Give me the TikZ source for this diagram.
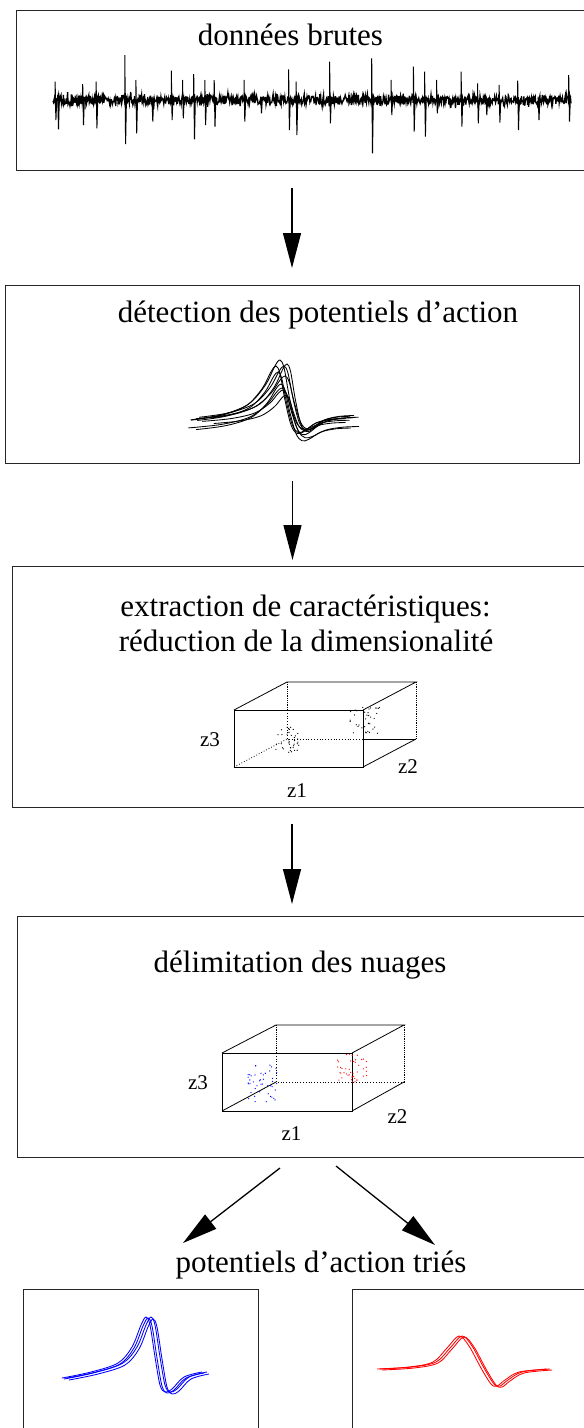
\documentclass[tikz,border=0pt]{standalone}
\usepackage{fontspec}
\setmainfont{Liberation Serif}
\usetikzlibrary{arrows.meta}
\begin{document}
\begin{tikzpicture}[x=1pt,y=-1pt,
  box/.style={draw=black!85,line width=0.9pt,rectangle,inner sep=0pt},
  title/.style={anchor=base,inner sep=0pt,font=\fontsize{31}{37}\selectfont},
  zlab/.style={inner sep=0pt,font=\fontsize{21}{25}\selectfont},
  arr/.style={line width=1.3pt,-{Triangle[length=35pt,width=18pt]}},
  edge/.style={line width=0.8pt},
  hid/.style={line width=0.8pt,dotted},
  dhid/.style={line width=0.8pt,densely dotted},
  wave/.style={line width=0.85pt},
  bspike/.pic={\draw[wave] plot[smooth,tension=0.55] coordinates {(-85,57) (-55,52) (-30,42) (-14,24) (-5,6) (0,0) (4,8) (9,36) (15,62) (21,71) (28,69) (40,60) (55,56) (70,55)};},
  blspike/.pic={\draw[wave,blue] plot[smooth,tension=0.55] coordinates {(-84,61) (-55,55) (-28,46) (-14,30) (-5,8) (0,0) (4,8) (9,40) (14,68) (19,75) (26,72) (38,60) (56,55)};},
  rdspike/.pic={\draw[wave,red] plot[smooth,tension=0.55] coordinates {(-82,33) (-50,31) (-26,26) (-12,12) (0,0) (10,10) (22,32) (32,48) (38,50) (46,44) (60,36) (88,33)};}
]
\useasboundingbox (0,0) rectangle (584,1428);
\clip (0,0) rectangle (584,1428);

% boxes
\node[box,minimum width=584pt,minimum height=160.5pt] (b1) at (308,90.25) {};
\node[box,minimum width=573.5pt,minimum height=177.5pt] (b2) at (292.25,374.25) {};
\node[box,minimum width=588pt,minimum height=240.5pt] (b3) at (306,686.75) {};
\node[box,minimum width=583pt,minimum height=241pt] (b4) at (308.5,1036.5) {};
\node[box,minimum width=235pt,minimum height=161pt] (b5) at (140.5,1369.5) {};
\node[box,minimum width=248pt,minimum height=161pt] (b6) at (476,1369.5) {};

% titles
\node[title] (t1) at (290.5,45) {données brutes};
\node[title] (t2) at (318,322) {détection des potentiels d’action};
\node[title] (t3a) at (305.5,616) {extraction de caractéristiques:};
\node[title] (t3b) at (306,651) {réduction de la dimensionalité};
\node[title] (t4) at (300,972) {délimitation des nuages};
\node[title] (t5) at (321,1272) {potentiels d’action triés};

% raw signal
\pgfmathsetseed{7}
\draw[line width=1.3pt] plot[domain=53:571,samples=1100] (\x,{100+4.5*rand+6*rand*rand*rand});
\foreach \sx/\su/\sd in {55.1/81.7/120,57.7/95/129.3,82.7/84/125,96.1/81.7/128.3,124.8/55/144,135.9/80/133.3,152/96.7/121.7,171.3/70.7/120,182.5/80/118.3,193.7/74/139.3,204.8/80/125,214.2/80/126.7,244/80/121.7,260.7/96.7/113.3,288.6/69.3/130,296.1/81.7/135,329.6/61.7/123.3,371.7/58.3/153.3,391/80/115,413.4/66.7/131.7,424.6/71.7/136.7,436.5/80/113.3,461.1/71.7/126.7,477.5/83.3/123.3,486/96.7/115,499.1/85/122.7,517.7/80.7/130,538.2/96.7/120,568.7/75/121.7}
  \draw[line width=1pt] (\sx,100) -- (\sx,\su) -- (\sx+0.8,\sd) -- (\sx+1.6,100);

% detected spikes
\pic[xscale=1.0,yscale=0.95] at (276,366) {bspike};
\pic[xscale=0.95,yscale=0.85] at (278,372) {bspike};
\pic[xscale=1.05,yscale=1.05] at (280,360) {bspike};
\pic[xscale=1.0,yscale=0.8] at (281,384) {bspike};
\pic[xscale=0.95,yscale=0.55] at (283,390) {bspike};
\pic[xscale=1.0,yscale=0.9] at (284,366) {bspike};
\pic[xscale=1.05,yscale=0.75] at (285,376) {bspike};
\pic[xscale=0.85,yscale=0.5] at (286,395) {bspike};
\pic[xscale=0.9,yscale=0.95] at (287,364) {bspike};
\pic[xscale=1.1,yscale=0.7] at (282,388) {bspike};

% feature cube (box 3)
\coordinate (cF1) at (234,710); \coordinate (cF2) at (363,710);
\coordinate (cF3) at (363,767); \coordinate (cF4) at (234,767);
\coordinate (cB1) at (287,682); \coordinate (cB2) at (416,682);
\coordinate (cB3) at (416,739); \coordinate (cB4) at (287,739);
\coordinate (cM1) at (287,710); \coordinate (cM2) at (363,739);
\draw[edge] (cF1) rectangle (cF3);
\draw[edge] (cF1) -- (cB1) -- (cB2) -- (cF2);
\draw[edge] (cF3) -- (cB3);
\draw[edge] (cM2) -- (cB3);
\draw[dhid] (cB2) -- (cB3);
\draw[dhid] (cB1) -- (cM1);
\draw[hid] (cM1) -- (cB4) -- (cM2);
\draw[hid] (cF4) -- (cB4);
\node[zlab] (z3a) at (210,740) {z3};
\node[zlab] (z2a) at (408,767) {z2};
\node[zlab] (z1a) at (297,791) {z1};
\pgfmathsetseed{11}
\foreach \i in {1,...,38}{
  \pgfmathsetmacro\px{286+13*rand}
  \pgfmathsetmacro\py{740+15*rand}
  \fill (\px,\py) circle (0.65);
}
\foreach \i in {1,...,38}{
  \pgfmathsetmacro\px{365+15*rand}
  \pgfmathsetmacro\py{721+14*rand}
  \fill (\px,\py) circle (0.65);
}

% cluster cube (box 4)
\coordinate (dF1) at (222,1053); \coordinate (dF2) at (352,1053);
\coordinate (dF3) at (352,1111); \coordinate (dF4) at (222,1111);
\coordinate (dB1) at (276,1025); \coordinate (dB2) at (404,1025);
\coordinate (dB3) at (404,1082); \coordinate (dB4) at (276,1082);
\coordinate (dM1) at (276,1053);
\draw[edge] (dF1) rectangle (dF3);
\draw[edge] (dF1) -- (dB1) -- (dB2) -- (dF2);
\draw[edge] (dF3) -- (dB3);
\draw[edge] (dF4) -- (dB4);
\draw[dhid] (dB2) -- (dB3);
\draw[dhid] (dB1) -- (dM1);
\draw[hid] (dM1) -- (dB4) -- (dB3);
\node[zlab] (z3b) at (198,1083) {z3};
\node[zlab] (z2b) at (397.5,1117) {z2};
\node[zlab] (z1b) at (291.5,1134) {z1};
\pgfmathsetseed{23}
\foreach \i in {1,...,45}{
  \pgfmathsetmacro\px{263+15*rand}
  \pgfmathsetmacro\py{1085+20*rand}
  \fill[blue] (\px,\py) circle (0.65);
}
\foreach \i in {1,...,45}{
  \pgfmathsetmacro\px{352+16*rand}
  \pgfmathsetmacro\py{1068+14*rand}
  \fill[red] (\px,\py) circle (0.65);
}

% sorted spikes
\pic at (146,1317) {blspike};
\pic at (148,1318) {blspike};
\pic at (151,1317) {blspike};
\pic at (153,1319) {blspike};
\pic at (459,1336) {rdspike};
\pic at (462,1336) {rdspike};
\pic at (464,1337) {rdspike};

% arrows
\coordinate (a1s) at (292,188); \coordinate (a1e) at (292,268);
\coordinate (a2s) at (292.5,481); \coordinate (a2e) at (292.5,560);
\coordinate (a3s) at (292,824); \coordinate (a3e) at (292,904);
\coordinate (a4s) at (280,1168); \coordinate (a4e) at (183,1243);
\coordinate (a5s) at (336,1166); \coordinate (a5e) at (435,1245);
\draw[arr] (a1s) -- (a1e);
\draw[arr] (a2s) -- (a2e);
\draw[arr] (a3s) -- (a3e);
\draw[arr] (a4s) -- (a4e);
\draw[arr] (a5s) -- (a5e);
\end{tikzpicture}
\end{document}
